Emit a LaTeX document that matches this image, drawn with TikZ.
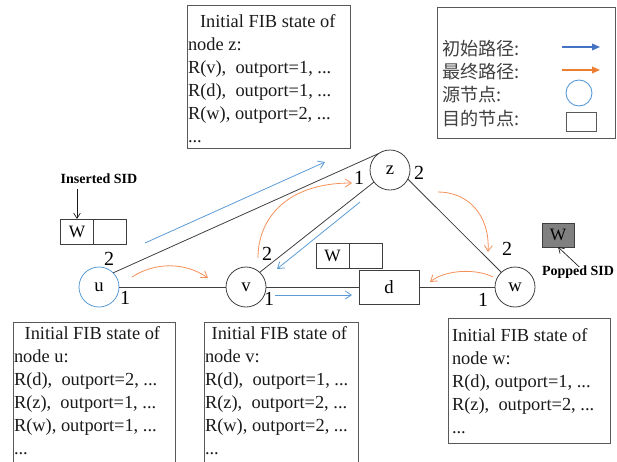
\documentclass[tikz,border=0pt]{standalone}
\usepackage{fontspec}
\setmainfont{Liberation Serif}
\newfontfamily\cjkfont{Noto Sans CJK SC}
\usetikzlibrary{arrows.meta}

\definecolor{edgegray}{HTML}{3F3F3F}
\definecolor{boxgray}{HTML}{595959}
\definecolor{pathblue}{HTML}{5B9BD5}
\definecolor{pathorange}{HTML}{F4915A}
\definecolor{legblue}{HTML}{4472C4}
\definecolor{legorange}{HTML}{ED7D31}
\definecolor{sidgray}{HTML}{808080}
\definecolor{inkblack}{HTML}{1A1A1A}

\tikzset{
  fibbox/.style={draw=boxgray, line width=0.7pt},
  fibtext/.style={anchor=north west, align=left, text=inkblack,
    font=\fontsize{13.8}{17.2}\selectfont},
  netnode/.style={circle, draw=edgegray, line width=0.6pt, minimum size=30pt,
    font=\fontsize{14}{16}\selectfont},
  destnode/.style={rectangle, draw=edgegray, line width=0.6pt,
    minimum width=45pt, minimum height=25.5pt, font=\fontsize{14}{16}\selectfont},
  port/.style={font=\fontsize{15}{17}\selectfont},
  link/.style={draw=edgegray, line width=0.6pt},
  sidcell/.style={rectangle, draw=edgegray, line width=0.6pt,
    minimum width=24.75pt, minimum height=18.75pt, font=\fontsize{13}{15}\selectfont},
  bluepath/.style={draw=pathblue, line width=0.6pt,
    -{Straight Barb[length=4.5pt,width=6pt]}},
  orangepath/.style={draw=pathorange, line width=0.6pt,
    -{Straight Barb[length=4.5pt,width=6pt]}},
  sidlabel/.style={font=\bfseries\fontsize{10.5}{12}\selectfont},
  pointer/.style={draw=inkblack, line width=0.5pt,
    -{Straight Barb[length=4pt,width=5pt]}},
  legtext/.style={anchor=west, font=\cjkfont\fontsize{13.6}{15}\selectfont,
    text=black!75},
  legarrow/.style={line width=0.9pt, -{Triangle[length=6pt,width=5pt]}},
}

\begin{document}
\begin{tikzpicture}[x=0.75pt, y=-0.75pt,
  every node/.style={inner sep=0pt, outer sep=0pt}]
\useasboundingbox (0,0) rectangle (617,461);
\clip (0,0) rectangle (617,461);

% FIB state boxes
\draw[fibbox] (187,5) rectangle (350,148);
\draw[fibbox] (13,322) rectangle (175,475);
\draw[fibbox] (204,322) rectangle (358,475);
\draw[fibbox] (448,318) rectangle (610,443);

\node[fibtext] (ztext) at (188,14.4)
  {\hspace*{9pt}Initial FIB state of\\node z:\\R(v),\ \ outport=1, ...\\R(d),\ \ outport=1, ...\\R(w), outport=2, ...\\...};
\node[fibtext] (utext) at (14,326.4)
  {\hspace*{8pt}Initial FIB state of\\node u:\\R(d),\ \ outport=2, ...\\R(z),\ \ outport=1, ...\\R(w), outport=1, ...\\...};
\node[fibtext] (vtext) at (205,326.4)
  {\hspace*{5pt}Initial FIB state of\\node v:\\R(d),\ \ outport=1, ...\\R(z),\ \ outport=2, ...\\R(w), outport=2, ...\\...};
\node[fibtext] (wtext) at (452,328.4)
  {Initial FIB state of\\node w:\\R(d), outport=1, ...\\R(z),\ \ outport=2, ...\\...};

% legend
\draw[fibbox] (437,7) rectangle (615,138);
\node[legtext] (lg1) at (442,49) {初始路径:};
\node[legtext] (lg2) at (442,72) {最终路径:};
\node[legtext] (lg3) at (442,95) {源节点:};
\node[legtext] (lg4) at (442,119) {目的节点:};
\coordinate (lb1) at (562,47);
\coordinate (lb2) at (600,47);
\coordinate (lo1) at (562,70);
\coordinate (lo2) at (600,70);
\draw[legarrow, legblue] (lb1) -- (lb2);
\draw[legarrow, legorange] (lo1) -- (lo2);
\node[circle, draw=pathblue, line width=0.7pt, minimum size=19.5pt] (lgsrc) at (579,93) {};
\node[rectangle, draw=boxgray, line width=0.7pt, minimum width=22.5pt,
  minimum height=14.25pt] (lgdst) at (581,121.5) {};

% network
\node[netnode, draw=pathblue] (u) at (99,287) {u};
\node[netnode] (v) at (246,287) {v};
\node[netnode] (z) at (390,170) {z};
\node[netnode] (w) at (515,287) {w};
\node[destnode] (d) at (389,287) {d};

\draw[link] (u) -- (v);
\draw[link] (v) -- (d);
\draw[link] (d) -- (w);
\draw[link] (u.45) -- (z.124);
\draw[link] (v.47) -- (z.217);
\draw[link] (z.333) -- (w.133);

% port numbers
\node[port] (pu2) at (109,259) {2};
\node[port] (pu1) at (125,298) {1};
\node[port] (pv2) at (267,254) {2};
\node[port] (pv1) at (269,299) {1};
\node[port] (pz1) at (359,178) {1};
\node[port] (pz2) at (419,173) {2};
\node[port] (pw2) at (507,249) {2};
\node[port] (pw1) at (483,300) {1};

% initial path
\coordinate (b1s) at (145,243);
\coordinate (b1e) at (325,162);
\coordinate (b2s) at (360,202);
\coordinate (b2e) at (277,269);
\coordinate (b3s) at (275,295);
\coordinate (b3e) at (352,295);
\draw[bluepath] (b1s) -- (b1e);
\draw[bluepath] (b2s) -- (b2e);
\draw[bluepath] (b3s) -- (b3e);

% final path
\coordinate (o1s) at (132,277);
\coordinate (o1e) at (208,278);
\coordinate (o2s) at (258,258);
\coordinate (o2e) at (352,183);
\coordinate (o3s) at (438,192);
\coordinate (o3e) at (488,252);
\coordinate (o4s) at (493,277);
\coordinate (o4e) at (430,282);
\draw[orangepath] (o1s) .. controls (155,262) and (185,262) .. (o1e);
\draw[orangepath] (o2s) .. controls (258,218) and (287,183) .. (o2e);
\draw[orangepath] (o3s) .. controls (468,192) and (490,215) .. (o3e);
\draw[orangepath] (o4s) .. controls (475,268) and (445,270) .. (o4e);

% segment lists
\node[sidlabel] (ins) at (99,179) {Inserted SID};
\node[sidcell] (insw) at (77,231.5) {W};
\node[sidcell] (insx) at (110,231.5) {};
\draw[pointer] ([yshift=-4pt]insw.north |- ins.south) -- (insw.north);

\node[sidcell] (dw) at (332.5,255.5) {W};
\node[sidcell] (dx) at (365.5,255.5) {};

\node[sidcell, fill=sidgray, minimum width=24pt, minimum height=18pt] (popw) at (558,235) {W};
\node[sidlabel] (poplab) at (578,272) {Popped SID};
\draw[pointer] ([xshift=1pt,yshift=-1pt]poplab.north) -- (popw.south);
\end{tikzpicture}
\end{document}
